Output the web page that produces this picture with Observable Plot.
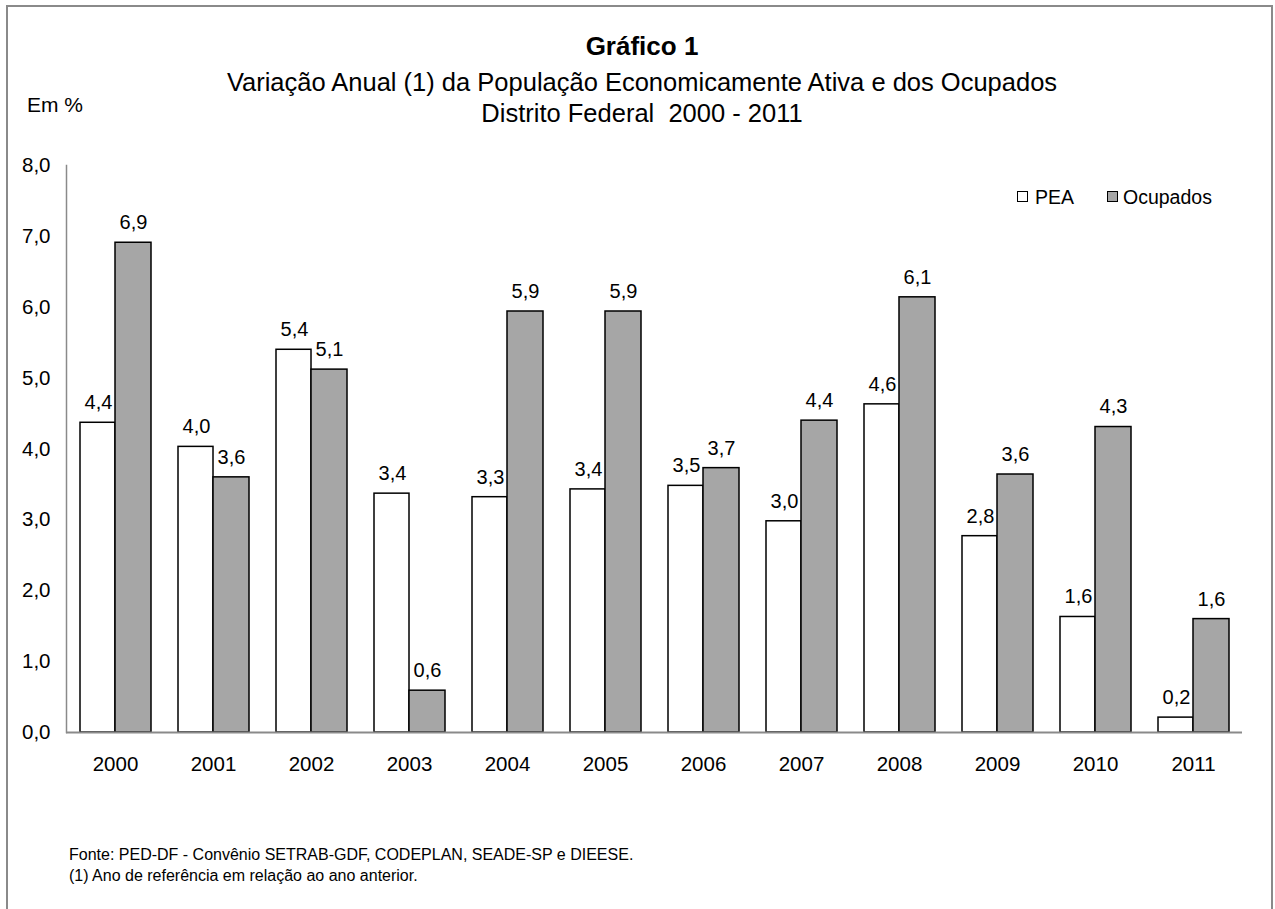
<!DOCTYPE html>
<html><head><meta charset="utf-8">
<script src="https://cdn.jsdelivr.net/npm/d3@7"></script>
<script src="https://cdn.jsdelivr.net/npm/@observablehq/plot@0.6"></script>
<style>
html,body{margin:0;padding:0;background:#fff;overflow:hidden;}
body{width:1275px;height:909px;position:relative;font-family:"Liberation Sans",Arial,sans-serif;color:#000;}
#frame{position:absolute;left:6px;top:5px;width:1267px;height:960px;border:2px solid #8a8a8a;box-sizing:border-box;}
.t{position:absolute;left:0;width:1284px;text-align:center;white-space:pre;font-size:25.5px;line-height:25.5px;}
#chart{position:absolute;left:0;top:130px;}
.lg{position:absolute;font-size:19.5px;line-height:19.5px;white-space:pre;}
.sw{position:absolute;width:11px;height:11px;box-sizing:border-box;border:1.5px solid #000;}
.ft{position:absolute;left:69px;font-size:16px;line-height:16px;white-space:pre;}
</style>
</head><body>
<div id="frame"></div>
<div class="t" style="top:33px;font-weight:bold;font-size:26px;line-height:26px;">Gráfico 1</div>
<div class="t" style="top:69.5px;">Variação Anual (1) da População Economicamente Ativa e dos Ocupados</div>
<div class="t" style="top:100.5px;">Distrito Federal  2000 - 2011</div>
<div style="position:absolute;left:27px;top:94px;font-size:21px;line-height:21px;">Em %</div>
<div id="chart"></div>
<div class="sw" style="left:1017px;top:191px;background:#fff;"></div>
<div class="lg" style="left:1035px;top:188px;">PEA</div>
<div class="sw" style="left:1107px;top:191px;background:#a6a6a6;"></div>
<div class="lg" style="left:1123px;top:188px;">Ocupados</div>
<div class="ft" style="top:846.5px;">Fonte: PED-DF - Convênio SETRAB-GDF, CODEPLAN, SEADE-SP e DIEESE.</div>
<div class="ft" style="top:867.5px;">(1) Ano de referência em relação ao ano anterior.</div>
<script>
const years = ["2000","2001","2002","2003","2004","2005","2006","2007","2008","2009","2010","2011"];
const pea = [4.37, 4.03, 5.40, 3.37, 3.32, 3.43, 3.48, 2.98, 4.63, 2.77, 1.63, 0.21];
const ocupados = [6.91, 3.60, 5.12, 0.59, 5.94, 5.94, 3.73, 4.40, 6.14, 3.64, 4.31, 1.60];
const yTicks = [0, 1, 2, 3, 4, 5, 6, 7, 8];

const fmt = v => d3.format(".1f")(v).replace(".", ",");
const rows = years.map((year, i) => ({year, pea: pea[i], ocupados: ocupados[i]}));

const chart = Plot.plot({
  width: 1275,
  height: 652,
  marginLeft: 66,
  marginRight: 33,
  marginTop: 35,
  marginBottom: 50,
  style: {fontFamily: '"Liberation Sans", Arial, sans-serif', fontSize: "20.5px", color: "#000", background: "transparent", overflow: "visible"},
  x: {type: "band", domain: years, padding: 0, label: null, tickSize: 0, tickPadding: 24},
  y: {domain: [0, 8], ticks: yTicks, tickFormat: fmt, label: null, tickSize: 0, tickPadding: 16},
  marks: [
    Plot.frame({anchor: "left", stroke: "#8a8a8a", strokeWidth: 1.5}),
    Plot.barY(rows, {x: "year", y: "pea", fill: "#fff", stroke: "#000", strokeWidth: 1.5, insetLeft: 14, insetRight: 49}),
    Plot.barY(rows, {x: "year", y: "ocupados", fill: "#a6a6a6", stroke: "#000", strokeWidth: 1.5, insetLeft: 49, insetRight: 13}),
    Plot.ruleY([0], {stroke: "#8a8a8a", strokeWidth: 2}),
    Plot.text(rows, {x: "year", y: "pea", text: d => fmt(d.pea), dx: -17, dy: -20, fill: "#000", fontSize: 20}),
    Plot.text(rows, {x: "year", y: "ocupados", text: d => fmt(d.ocupados), dx: 18, dy: -20, fill: "#000", fontSize: 20})
  ]
});
document.getElementById("chart").append(chart);
</script>
</body></html>
